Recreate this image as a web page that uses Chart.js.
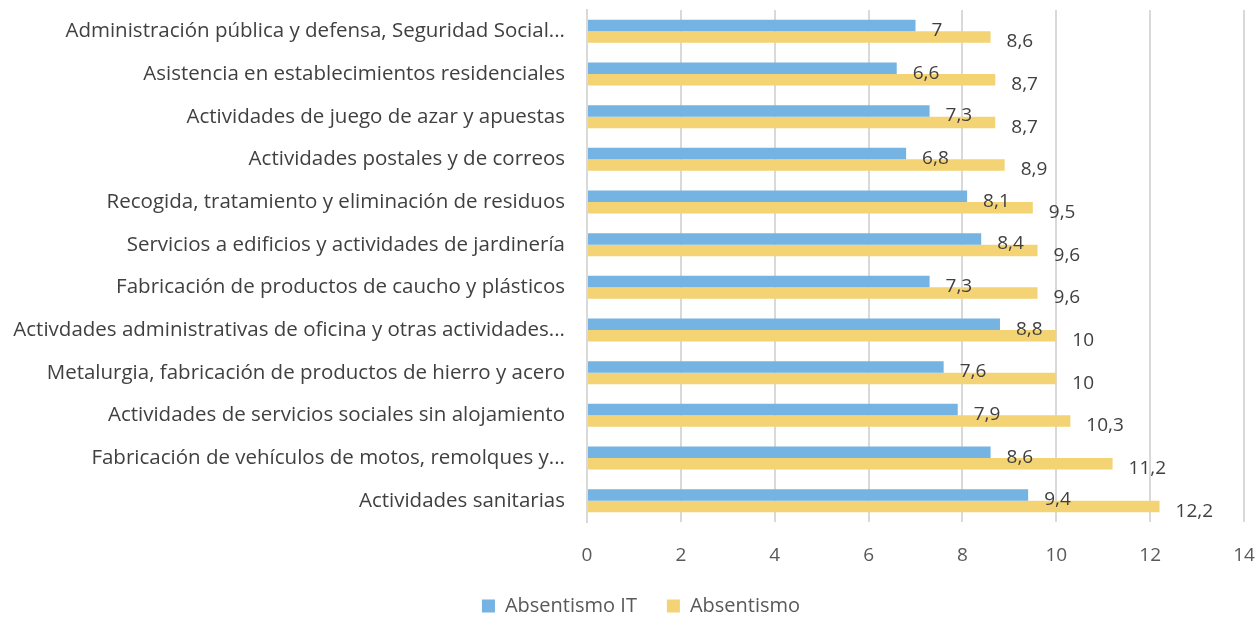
<!DOCTYPE html>
<html>
<head>
<meta charset="utf-8">
<script src="https://cdn.jsdelivr.net/npm/chart.js@4/dist/chart.umd.min.js"></script>
<style>
  html, body { margin: 0; padding: 0; background: #fff; }
  #wrap { width: 1260px; height: 619px; }
</style>
</head>
<body>
<div id="wrap"><canvas id="myChart" width="1260" height="619"></canvas></div>
<script>
var categories = [
    "Administración pública y defensa, Seguridad Social...",
    "Asistencia en establecimientos residenciales",
    "Actividades de juego de azar y apuestas",
    "Actividades postales y de correos",
    "Recogida, tratamiento y eliminación de residuos",
    "Servicios a edificios y actividades de jardinería",
    "Fabricación de productos de caucho y plásticos",
    "Activdades administrativas de oficina y otras actividades...",
    "Metalurgia, fabricación de productos de hierro y acero",
    "Actividades de servicios sociales sin alojamiento",
    "Fabricación de vehículos de motos, remolques y...",
    "Actividades sanitarias"
];
var absentismoIT = [7, 6.6, 7.3, 6.8, 8.1, 8.4, 7.3, 8.8, 7.6, 7.9, 8.6, 9.4];
var absentismo = [8.6, 8.7, 8.7, 8.9, 9.5, 9.6, 9.6, 10, 10, 10.3, 11.2, 12.2];
var xTicks = [0, 2, 4, 6, 8, 10, 12, 14];

var fontName = "'Open Sans', Lato, sans-serif";

// etiquetas de valor a la derecha de cada barra
var valueLabels = {
    id: "valueLabels",
    afterDatasetsDraw: function (chart) {
        var ctx = chart.ctx;
        ctx.save();
        ctx.font = "19px " + fontName;
        ctx.fillStyle = "#404040";
        ctx.textAlign = "left";
        ctx.textBaseline = "middle";
        chart.data.datasets.forEach(function (ds, i) {
            chart.getDatasetMeta(i).data.forEach(function (bar, j) {
                var txt = String(ds.data[j]).replace(".", ",");
                ctx.fillText(txt, bar.x + 16, bar.y + 5);
            });
        });
        ctx.restore();
    }
};

// mover la leyenda un poco a la derecha
var legendShift = {
    id: "legendShift",
    afterLayout: function (chart) {
        chart.legend.left += 19;
        chart.legend.right += 19;
    }
};

new Chart("myChart", {
    type: "bar",
    data: {
        labels: categories,
        datasets: [{
            label: "Absentismo IT",
            data: absentismoIT,
            backgroundColor: "#74b3e2",
            categoryPercentage: 0.54,
            barPercentage: 1
        }, {
            label: "Absentismo",
            data: absentismo,
            backgroundColor: "#f3d373",
            categoryPercentage: 0.54,
            barPercentage: 1
        }]
    },
    options: {
        indexAxis: "y",
        responsive: false,
        animation: false,
        layout: { padding: { left: 0, right: 16, top: 10, bottom: -7 } },
        plugins: {
            tooltip: { enabled: false },
            legend: {
                position: "bottom",
                labels: {
                    boxWidth: 13,
                    boxHeight: 13,
                    padding: 30,
                    color: "#595959",
                    font: { family: fontName, size: 20 }
                }
            }
        },
        scales: {
            x: {
                min: 0,
                max: 14,
                afterBuildTicks: function (scale) {
                    scale.ticks = xTicks.map(function (v) { return { value: v }; });
                },
                afterFit: function (scale) {
                    scale.height = 44;
                    scale.paddingLeft = 0;
                    scale.paddingRight = 0;
                },
                grid: { color: "#d9d9d9", lineWidth: 2, drawTicks: false },
                border: { display: false },
                ticks: {
                    padding: 22,
                    color: "#595959",
                    font: { family: fontName, size: 19 }
                }
            },
            y: {
                afterFit: function (scale) {
                    scale.width = 587;
                    scale.paddingTop = 0;
                    scale.paddingBottom = 0;
                },
                grid: { display: false },
                border: { display: true, color: "#d9d9d9", width: 2 },
                ticks: {
                    padding: 14,
                    color: "#404040",
                    font: { family: fontName, size: 20.5 }
                }
            }
        }
    },
    plugins: [valueLabels, legendShift]
});
</script>
</body>
</html>
